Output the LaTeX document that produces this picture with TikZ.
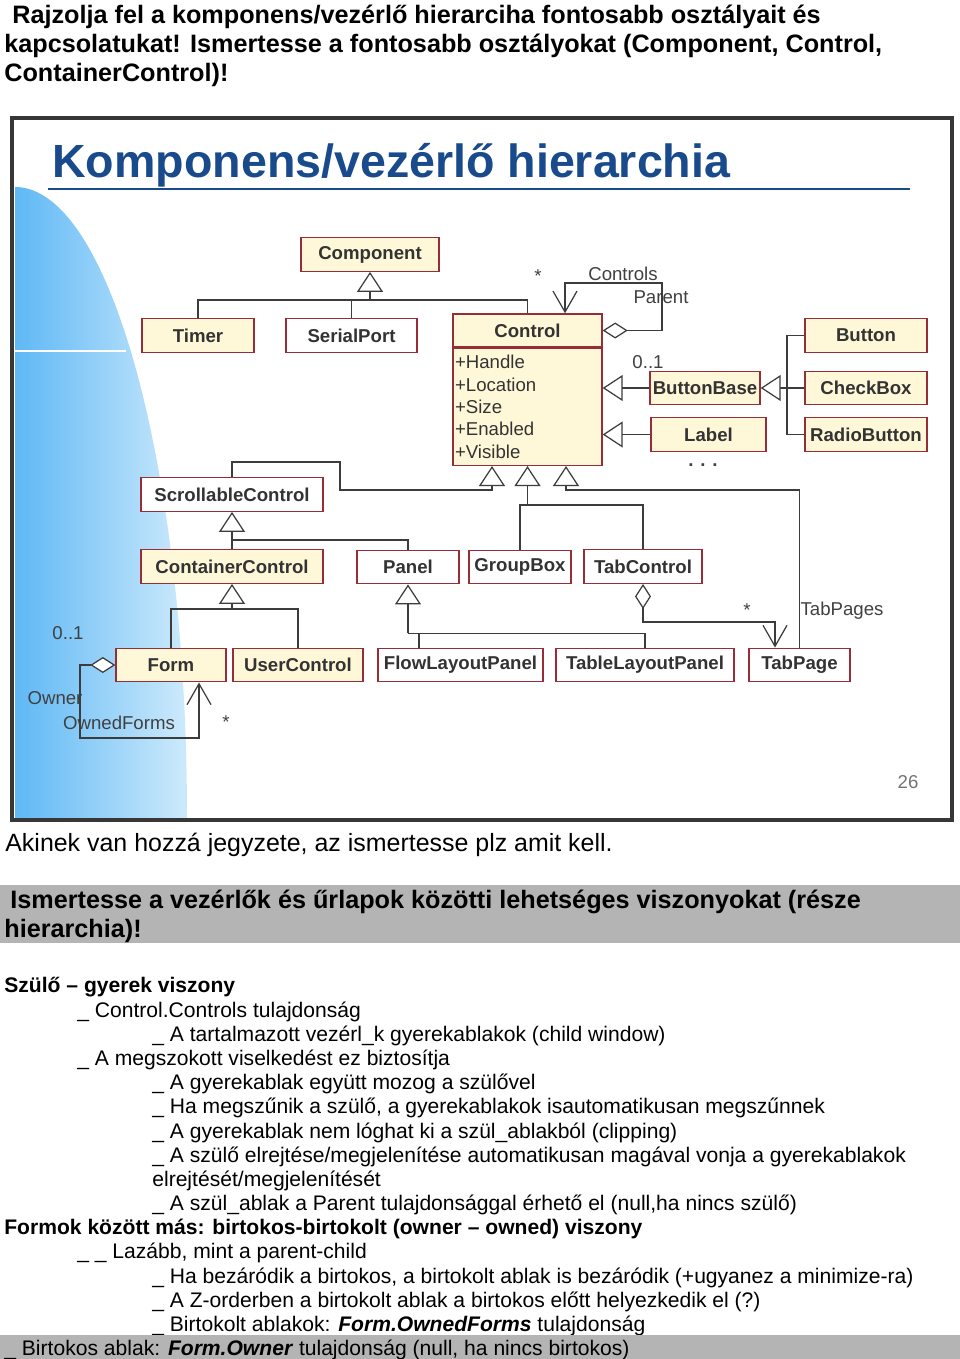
\documentclass[tikz,border=0pt]{standalone}
\usepackage{fontspec}
\setmainfont{Liberation Sans}
\setsansfont{Liberation Sans}
\usetikzlibrary{arrows.meta, positioning, calc}
\definecolor{slideblue}{RGB}{24,74,140}
\definecolor{boxline}{RGB}{150,45,55}
\definecolor{boxfill}{RGB}{255,248,216}
\definecolor{umlline}{RGB}{60,60,60}
\definecolor{bandgray}{RGB}{180,180,180}
\definecolor{frameline}{RGB}{55,55,55}
\definecolor{bluedeep}{RGB}{95,184,245}
\definecolor{bluepale}{RGB}{205,234,252}
\newcommand{\bodyfont}{\fontsize{14.35}{16}\selectfont}
\newcommand{\listfont}{\fontsize{12}{14}\selectfont}
\newcommand{\umlfont}{\fontsize{10.6}{12.75}\selectfont}
\newcommand{\slidetitlefont}{\fontsize{26.5}{30}\selectfont\bfseries}
\tikzset{
  clsbox/.style={rectangle, draw=boxline, line width=0.8pt, fill=boxfill,
                 minimum height=0.67cm, inner sep=0pt, text=black!80,
                 font=\umlfont\bfseries},
  clsplain/.style={clsbox, fill=white},
  gen/.style={-{Triangle[fill=white, length=0.4cm, width=0.52cm]},
              draw=umlline, line width=0.7pt},
  aggr/.style={{Diamond[fill=white, length=0.5cm, width=0.32cm]}-{Straight Barb[length=0.42cm, width=0.48cm]},
               draw=umlline, line width=0.7pt},
  plainline/.style={draw=umlline, line width=0.7pt},
  umllbl/.style={font=\umlfont, text=black!75, inner sep=0pt},
  txt/.style={anchor=base west, inner sep=0pt, font=\bodyfont},
  txtb/.style={txt, font=\bodyfont\bfseries},
  item/.style={anchor=base west, inner sep=0pt, font=\listfont},
  itemb/.style={item, font=\listfont\bfseries},
}

\begin{document}
\begin{tikzpicture}[x=0.02cm, y=-0.02cm]
  \useasboundingbox (0,0) rectangle (960,1359);

  % Question above the slide
  \node[txtb] (q1a) at (12,23) {Rajzolja fel a komponens/vezérlő hierarciha fontosabb osztályait és};
  \node[txtb] (q1b) at (4,52) {kapcsolatukat! Ismertesse a fontosabb osztályokat (Component, Control,};
  \node[txtb] (q1c) at (4,81) {ContainerControl)!};

  % Slide background
  \fill[white] (12,118) rectangle (952,820);
  \shade[left color=bluedeep, right color=bluepale]
    (15,818) -- (15,187) .. controls (110,187) and (187,469) .. (187,818) -- cycle;
  \draw[white, line width=0.6pt] (15,351) -- (126,351);
  \draw[frameline, line width=2.3pt] (12,118) rectangle (952,820);

  % Slide title
  \node[anchor=base west, inner sep=0pt, font=\slidetitlefont, text=slideblue]
        (title) at (52,177) {Komponens/vezérlő hierarchia};
  \draw[slideblue, line width=1.2pt] (48,189) -- (910,189);
  \node[umllbl, text=black!55] (pgnum) at (908,782) {26};

  % Classes
  \node[clsbox, minimum width=2.76cm] (comp) at (370,254.5) {Component};
  \node[clsbox, minimum width=2.24cm] (tmr) at (198,335.5) {Timer};
  \node[clsplain, minimum width=2.62cm] (ser) at (351.5,335.5) {SerialPort};
  \node[clsbox, minimum width=2.98cm, minimum height=0.66cm] (ctrl) at (527.5,330.5) {Control};
  \node[clsbox, anchor=north, font=\umlfont, text width=2.9cm, inner xsep=0.04cm,
        align=left, minimum height=2.34cm] (ctrlattr) at (ctrl.south)
        {+Handle\\+Location\\+Size\\+Enabled\\+Visible};

  \node[clsbox, minimum width=2.44cm] (btn) at (866,335.5) {Button};
  \node[clsbox, minimum width=2.2cm] (bbase) at (705,388) {ButtonBase};
  \node[clsbox, minimum width=2.44cm] (chk) at (866,388) {CheckBox};
  \node[clsbox, minimum width=2.3cm] (lbl) at (708.5,434.5) {Label};
  \node[clsbox, minimum width=2.44cm] (rad) at (866,434.5) {RadioButton};

  \node[clsplain, minimum width=3.64cm] (scr) at (232,494.5) {ScrollableControl};
  \node[clsbox, minimum width=3.64cm] (cont) at (232,566.5) {ContainerControl};
  \node[clsplain, minimum width=2.04cm] (pnl) at (408,567) {Panel};
  \node[clsplain, minimum width=2.04cm] (grp) at (520,567) {GroupBox};
  \node[clsplain, minimum width=2.36cm] (tab) at (643,566.5) {TabControl};

  \node[clsbox, minimum width=2.2cm] (frm) at (171,665) {Form};
  \node[clsbox, minimum width=2.6cm] (usr) at (298,665) {UserControl};
  \node[clsplain, minimum width=3.3cm] (flw) at (460.5,665) {FlowLayoutPanel};
  \node[clsplain, minimum width=3.56cm] (tbl) at (645,665) {TableLayoutPanel};
  \node[clsplain, minimum width=2.02cm] (tpg) at (799.5,665) {TabPage};

  % Association labels
  \node[umllbl] (ctrlstar) at (538,276) {*};
  \node[umllbl] (ctrlsrole) at (623,274) {Controls};
  \node[umllbl] (parrole) at (661,297) {Parent};
  \node[umllbl] (bbmult) at (648,362) {0..1};
  \node[umllbl, font=\umlfont\bfseries] (moredots) at (703,465) {. . .};
  \node[umllbl] (tabstar) at (747,610) {*};
  \node[umllbl] (tabrole) at (842,611) {TabPages};
  \node[umllbl] (frmmult) at (68,633) {0..1};
  \node[umllbl] (ownrole) at (55,698) {Owner};
  \node[umllbl] (ownedrole) at (119,723) {OwnedForms};
  \node[umllbl] (frmstar) at (226,722) {*};

  % Component subclasses
  \coordinate (compj) at ($(comp.south)+(0,28)$);
  \draw[gen] (compj) -- (comp.south);
  \draw[plainline] (tmr.north) |- (compj) -| (ctrl.north);
  \draw[plainline] (ser.north) -- (ser.north |- compj);

  % Controls / Parent
  \draw[aggr] (ctrl.east) -| (662,283) -| ($(ctrl.north)+(37.5,0)$);

  % Button family
  \coordinate (btnj) at (787,388);
  \draw[gen] (bbase.west) -- (ctrlattr.east |- bbase.west);
  \draw[gen] (lbl.west) -- (ctrlattr.east |- lbl.west);
  \draw[gen] (chk.west) -- (bbase.east);
  \draw[plainline] (btn.west) -| (btnj) |- (rad.west);

  % Control subclasses below
  \coordinate (tipA) at ($(ctrlattr.south)+(-35.5,0)$);
  \coordinate (tipB) at (ctrlattr.south);
  \coordinate (tipC) at ($(ctrlattr.south)+(38.5,0)$);
  \coordinate (midj) at ($(tipB)+(0,39)$);
  \draw[gen] (scr.north) |- (340,462) |- ($(tipA)+(0,24)$) -- (tipA);
  \draw[gen] (midj) -- (tipB);
  \draw[plainline] (grp.north) |- (midj) -| (tab.north);
  \draw[gen] (tpg.north) |- ($(tipC)+(0,24)$) -- (tipC);

  % ScrollableControl subclasses
  \coordinate (scrj) at ($(scr.south)+(0,28)$);
  \draw[gen] (scrj) -- (scr.south);
  \draw[plainline] (cont.north) -- (scrj) -| (pnl.north);

  % ContainerControl subclasses
  \coordinate (contj) at ($(cont.south)+(0,25)$);
  \draw[gen] (contj) -- (cont.south);
  \draw[plainline] (frm.north) |- (contj) -| (usr.north);

  % Panel subclasses
  \coordinate (pnlj) at ($(pnl.south)+(0,49)$);
  \coordinate (flwj) at ($(pnlj)+(11,0)$);
  \draw[gen] (pnlj) -- (pnl.south);
  \draw[plainline] (pnlj) -| (tbl.north);
  \draw[plainline] (flwj) -- (flwj |- flw.north);

  % TabPages
  \coordinate (tabj) at (775,622);
  \draw[aggr] (tab.south) |- (tabj) -- (tabj |- tpg.north);

  % Owner / OwnedForms
  \coordinate (frmloop) at (80,738);
  \draw[aggr] (frm.west) -| (frmloop) -| ($(frm.south)+(28,0)$);

  % Notes below the slide
  \node[txt, font=\fontsize{14.2}{16}\selectfont] (note) at (5,851) {Akinek van hozzá jegyzete, az ismertesse plz amit kell.};

  \fill[bandgray] (0,885) rectangle (960,943);
  \node[txtb] (q2a) at (10,908) {Ismertesse a vezérlők és űrlapok közötti lehetséges viszonyokat (része};
  \node[txtb] (q2b) at (4,937) {hierarchia)!};

  \node[itemb] (pc) at (4,992) {Szülő – gyerek viszony};
  \node[item] (pc1) at (77,1017) {\_ Control.Controls tulajdonság};
  \node[item] (pc1a) at (152,1041) {\_ A tartalmazott vezérl\_k gyerekablakok (child window)};
  \node[item] (pc2) at (77,1065) {\_ A megszokott viselkedést ez biztosítja};
  \node[item] (pc2a) at (152,1089) {\_ A gyerekablak együtt mozog a szülővel};
  \node[item] (pc2b) at (152,1113) {\_ Ha megszűnik a szülő, a gyerekablakok isautomatikusan megszűnnek};
  \node[item] (pc2c) at (152,1138) {\_ A gyerekablak nem lóghat ki a szül\_ablakból (clipping)};
  \node[item] (pc2d) at (152,1162) {\_ A szülő elrejtése/megjelenítése automatikusan magával vonja a gyerekablakok};
  \node[item] (pc2e) at (152,1186) {elrejtését/megjelenítését};
  \node[item] (pc2f) at (152,1210) {\_ A szül\_ablak a Parent tulajdonsággal érhető el (null,ha nincs szülő)};

  \node[itemb] (oo) at (4,1234) {Formok között más: birtokos-birtokolt (owner – owned) viszony};
  \node[item] (oo1) at (77,1258) {\_ \_ Lazább, mint a parent-child};
  \node[item] (oo1a) at (152,1283) {\_ Ha bezáródik a birtokos, a birtokolt ablak is bezáródik (+ugyanez a minimize-ra)};
  \node[item] (oo1b) at (152,1307) {\_ A Z-orderben a birtokolt ablak a birtokos előtt helyezkedik el (?)};
  \node[item] (oo1c) at (152,1331) {\_ Birtokolt ablakok: \textbf{\textit{Form.OwnedForms}} tulajdonság};
  \fill[bandgray] (0,1335) rectangle (960,1359);
  \node[item] (oo2) at (4,1355) {\_ Birtokos ablak: \textbf{\textit{Form.Owner}} tulajdonság (null, ha nincs birtokos)};
\end{tikzpicture}
\end{document}
